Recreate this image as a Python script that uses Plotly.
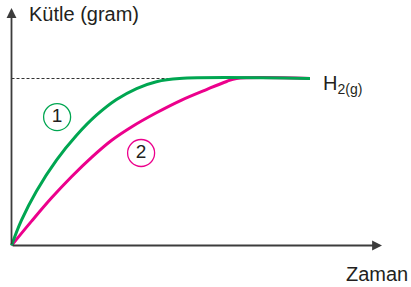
import plotly.graph_objects as go

# Time (arbitrary units) and mass (arbitrary units, plateau = 10)
green_t = [0, 0.33, 0.83, 1.5, 2.17, 2.83, 3.5, 4.17, 4.83, 5.6, 9.95]
green_m = [0, 1.5, 3.25, 5.11, 6.6, 7.8, 8.74, 9.4, 9.81, 10, 10]
magenta_t = [0, 0.67, 1.33, 2.0, 2.67, 3.33, 4.0, 4.83, 5.67, 6.5, 7.17, 7.5, 9.95]
magenta_m = [0, 1.46, 2.84, 4.12, 5.28, 6.29, 7.1, 7.95, 8.71, 9.34, 9.82, 10, 10]
plateau = 10
dash_end_t = 5.5

GREEN = "#00a651"
MAGENTA = "#ec008c"
AXIS = "#3c3c3c"
TXT = "#231f20"
FONT = "Liberation Sans, Arial, sans-serif"

fig = go.Figure()

# dashed plateau reference line
fig.add_trace(go.Scatter(x=[0, dash_end_t], y=[plateau, plateau], mode="lines",
                         line=dict(color="#333333", width=1, dash="3px,2px"),
                         hoverinfo="skip", showlegend=False))
fig.add_trace(go.Scatter(x=magenta_t, y=magenta_m, mode="lines",
                         line=dict(color=MAGENTA, width=3, shape="spline", smoothing=1.0),
                         showlegend=False))
fig.add_trace(go.Scatter(x=green_t, y=green_m, mode="lines",
                         line=dict(color=GREEN, width=3, shape="spline", smoothing=1.0),
                         showlegend=False))

# circled labels
fig.add_trace(go.Scatter(x=[1.52], y=[7.69], mode="markers+text", text=["1"],
                         textposition="middle center",
                         textfont=dict(family=FONT, size=19, color=TXT),
                         marker=dict(symbol="circle-open", size=27,
                                     line=dict(color=GREEN, width=1.3), color=GREEN),
                         showlegend=False))
fig.add_trace(go.Scatter(x=[4.32], y=[5.54], mode="markers+text", text=["2"],
                         textposition="middle center",
                         textfont=dict(family=FONT, size=19, color=TXT),
                         marker=dict(symbol="circle-open", size=27,
                                     line=dict(color=MAGENTA, width=1.3), color=MAGENTA),
                         showlegend=False))

# axes with arrows
fig.add_annotation(x=0, y=14.22, ax=0, ay=0, axref="x", ayref="y", xref="x", yref="y",
                   showarrow=True, arrowhead=2, arrowsize=1.1, arrowwidth=1.8,
                   arrowcolor=AXIS, text="")
fig.add_annotation(x=12.35, y=0, ax=0, ay=0, axref="x", ayref="y", xref="x", yref="y",
                   showarrow=True, arrowhead=2, arrowsize=1.1, arrowwidth=1.8,
                   arrowcolor=AXIS, text="")

# texts
fig.add_annotation(x=27 / 411, y=1 - 14 / 287, xref="paper", yref="paper",
                   text="Kütle (gram)", showarrow=False, xanchor="left", yanchor="middle",
                   font=dict(family=FONT, size=20, color=TXT))
fig.add_annotation(x=410 / 411, y=1 - 274 / 287, xref="paper", yref="paper",
                   text="Zaman", showarrow=False, xanchor="right", yanchor="middle",
                   font=dict(family=FONT, size=20, color=TXT))
fig.add_annotation(x=321 / 411, y=1 - 84 / 287, xref="paper", yref="paper",
                   text="H<sub>2(g)</sub>", showarrow=False, xanchor="left", yanchor="middle",
                   font=dict(family=FONT, size=20, color=TXT))

fig.update_layout(
    width=411, height=287,
    margin=dict(l=0, r=0, t=0, b=0),
    paper_bgcolor="white", plot_bgcolor="white",
    xaxis=dict(range=[-11.5 / 30, 399.5 / 30], visible=False, fixedrange=True),
    yaxis=dict(range=[-41.5 / 16.7, 245.5 / 16.7], visible=False, fixedrange=True),
    showlegend=False,
)

fig.write_html("out.html", post_script="document.body.style.margin='0px';",
               config={"displayModeBar": False})
